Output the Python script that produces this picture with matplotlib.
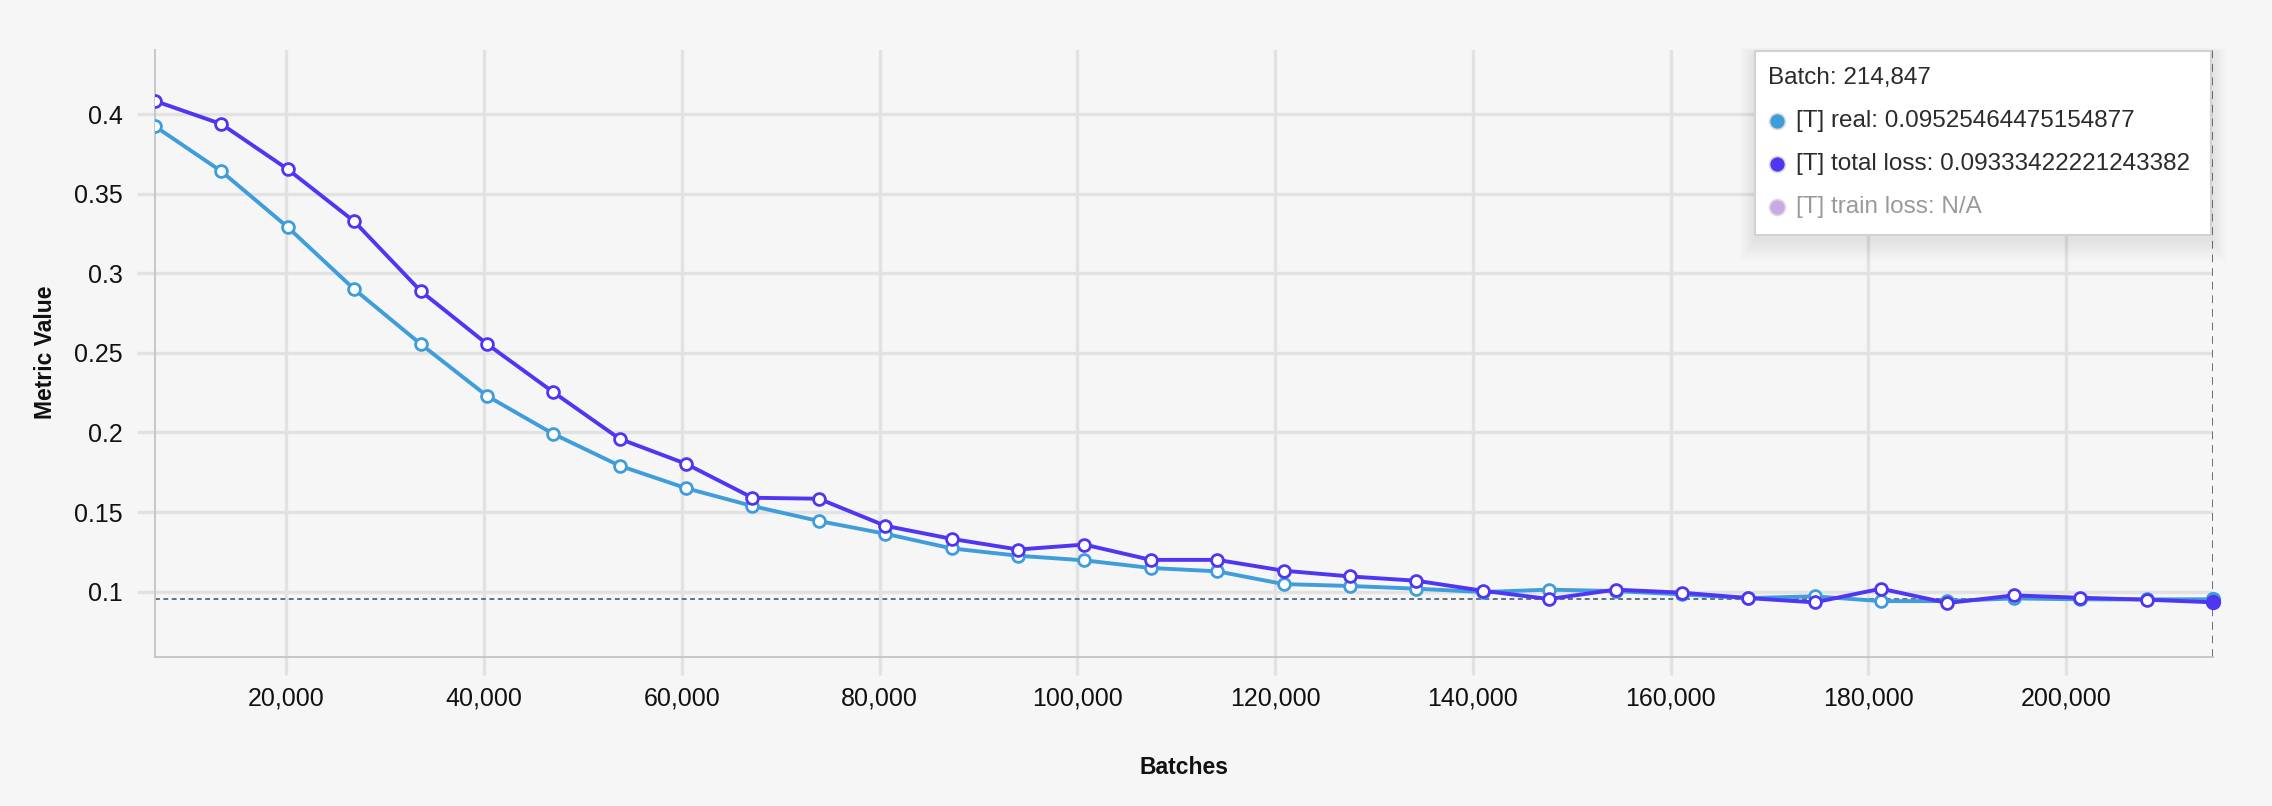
import numpy as np
import matplotlib.pyplot as plt
from matplotlib.patches import Rectangle
from matplotlib.lines import Line2D
from matplotlib.ticker import FuncFormatter, MultipleLocator


W, H = 2272, 806
BG = "#f6f6f6"

STEP = 6714
LAST_BATCH = 214847
batches = [STEP * k for k in range(1, 32)] + [LAST_BATCH]

real = [0.3923, 0.3640, 0.3289, 0.2900, 0.2556, 0.2230, 0.1991, 0.1791,
        0.1650, 0.1538, 0.1444, 0.1364, 0.1272, 0.1226, 0.1197, 0.1149,
        0.1128, 0.1048, 0.1036, 0.1019, 0.0998, 0.1013, 0.1004, 0.0983,
        0.0960, 0.0971, 0.0941, 0.0941, 0.0958, 0.0952, 0.0952, 0.09525464475154877]

total_loss = [0.4082, 0.3937, 0.3653, 0.3326, 0.2889, 0.2556, 0.2253, 0.1960,
              0.1803, 0.1590, 0.1584, 0.1414, 0.1332, 0.1265, 0.1296, 0.1200,
              0.1200, 0.1132, 0.1096, 0.1069, 0.1006, 0.0954, 0.1013, 0.0994,
              0.0960, 0.0933, 0.1019, 0.0929, 0.0977, 0.0962, 0.0950, 0.09333422221243382]

C_REAL = "#3f9ddb"
C_TOTAL = "#4f36f2"
C_TRAIN = "#c9a9e6"

plt.rcParams["font.family"] = ["Liberation Sans", "DejaVu Sans"]

fig = plt.figure(figsize=(W / 100, H / 100), dpi=100, facecolor=BG)


def fx(px):
    return px / W


def fy(py):
    return 1 - py / H


ax = fig.add_axes([fx(155), fy(657), (2213 - 155) / W, (657 - 50) / H])
ax.set_facecolor(BG)

ax.plot(batches, real, color=C_REAL, lw=2.8, marker="o", ms=8.5,
        mfc="white", mec=C_REAL, mew=2.0, zorder=3)
ax.plot(batches, total_loss, color=C_TOTAL, lw=2.8, marker="o", ms=8.5,
        mfc="white", mec=C_TOTAL, mew=2.0, zorder=4)

# hovered point
ax.plot(batches[-1], real[-1], "o", ms=10, color=C_REAL, zorder=5, clip_on=False)
ax.plot(batches[-1], total_loss[-1], "o", ms=10, color=C_TOTAL, zorder=6, clip_on=False)

ax.axhline(real[-1], color="#5f7282", lw=1.4, ls=(0, (2.5, 1.8)), zorder=2)
ax.axvline(batches[-1], color="#5f7282", lw=1.4, ls=(0, (4, 3)), zorder=2)

ax.set_xlim(STEP, LAST_BATCH)
ax.set_ylim(0.059, 0.4402)
ax.xaxis.set_major_locator(MultipleLocator(20000))
ax.yaxis.set_major_locator(MultipleLocator(0.05))
ax.xaxis.set_major_formatter(FuncFormatter(lambda v, p: f"{int(v):,}"))
ax.yaxis.set_major_formatter(FuncFormatter(lambda v, p: f"{v:g}"))

ax.grid(True, color="#e2e2e2", lw=2.4, zorder=0)
ax.set_axisbelow(True)
ax.tick_params(axis="both", length=13, width=2.4, color="#e2e2e2",
               labelsize=18, labelcolor="#111111")
ax.tick_params(axis="x", pad=8)
ax.tick_params(axis="y", pad=10)

for side in ("top", "right"):
    ax.spines[side].set_visible(False)
for side in ("left", "bottom"):
    ax.spines[side].set_color("#c4c4c4")
    ax.spines[side].set_linewidth(1.3)

fig.text(fx(1184), fy(768), "Batches", ha="center", va="center",
         fontsize=16.5, fontweight="bold", color="#111111")
fig.text(fx(45), fy(352), "Metric Value", ha="center", va="center",
         rotation=90, fontsize=16.5, fontweight="bold", color="#111111")

# tooltip box with soft shadow
bx0, bx1, by0, by1 = 1755, 2211, 51, 235
for i in range(10, 0, -1):
    fig.add_artist(Rectangle((fx(bx0 - i * 1.5), fy(by1 + i * 2.2 + 4)),
                             (bx1 - bx0 + i * 3) / W, (by1 - by0 + i * 3) / H,
                             transform=fig.transFigure, facecolor="black",
                             edgecolor="none", alpha=0.007, zorder=9))
fig.add_artist(Rectangle((fx(bx0), fy(by1)), (bx1 - bx0) / W, (by1 - by0) / H,
                         transform=fig.transFigure, facecolor="white",
                         edgecolor="#d2d2d2", lw=1.5, zorder=10))

fig.text(fx(1768), fy(78), f"Batch: {LAST_BATCH:,}", ha="left", va="center",
         fontsize=17.5, color="#2b2b2b", zorder=11)

rows = [
    (C_REAL, f"[T] real: {real[-1]}", "#2b2b2b"),
    (C_TOTAL, f"[T] total loss: {total_loss[-1]}", "#2b2b2b"),
    (C_TRAIN, "[T] train loss: N/A", "#9a9a9a"),
]
for i, (c, label, tc) in enumerate(rows):
    y = 121 + i * 43
    fig.add_artist(Line2D([fx(1777)], [fy(y)], marker="o", ms=11.5, color=c,
                          mec="#dcdcdc", mew=1.2, transform=fig.transFigure,
                          zorder=11))
    fig.text(fx(1796), fy(y), label, ha="left", va="center", fontsize=17.5,
             color=tc, zorder=11)

fig.savefig("out.png", dpi=100, facecolor=BG)
